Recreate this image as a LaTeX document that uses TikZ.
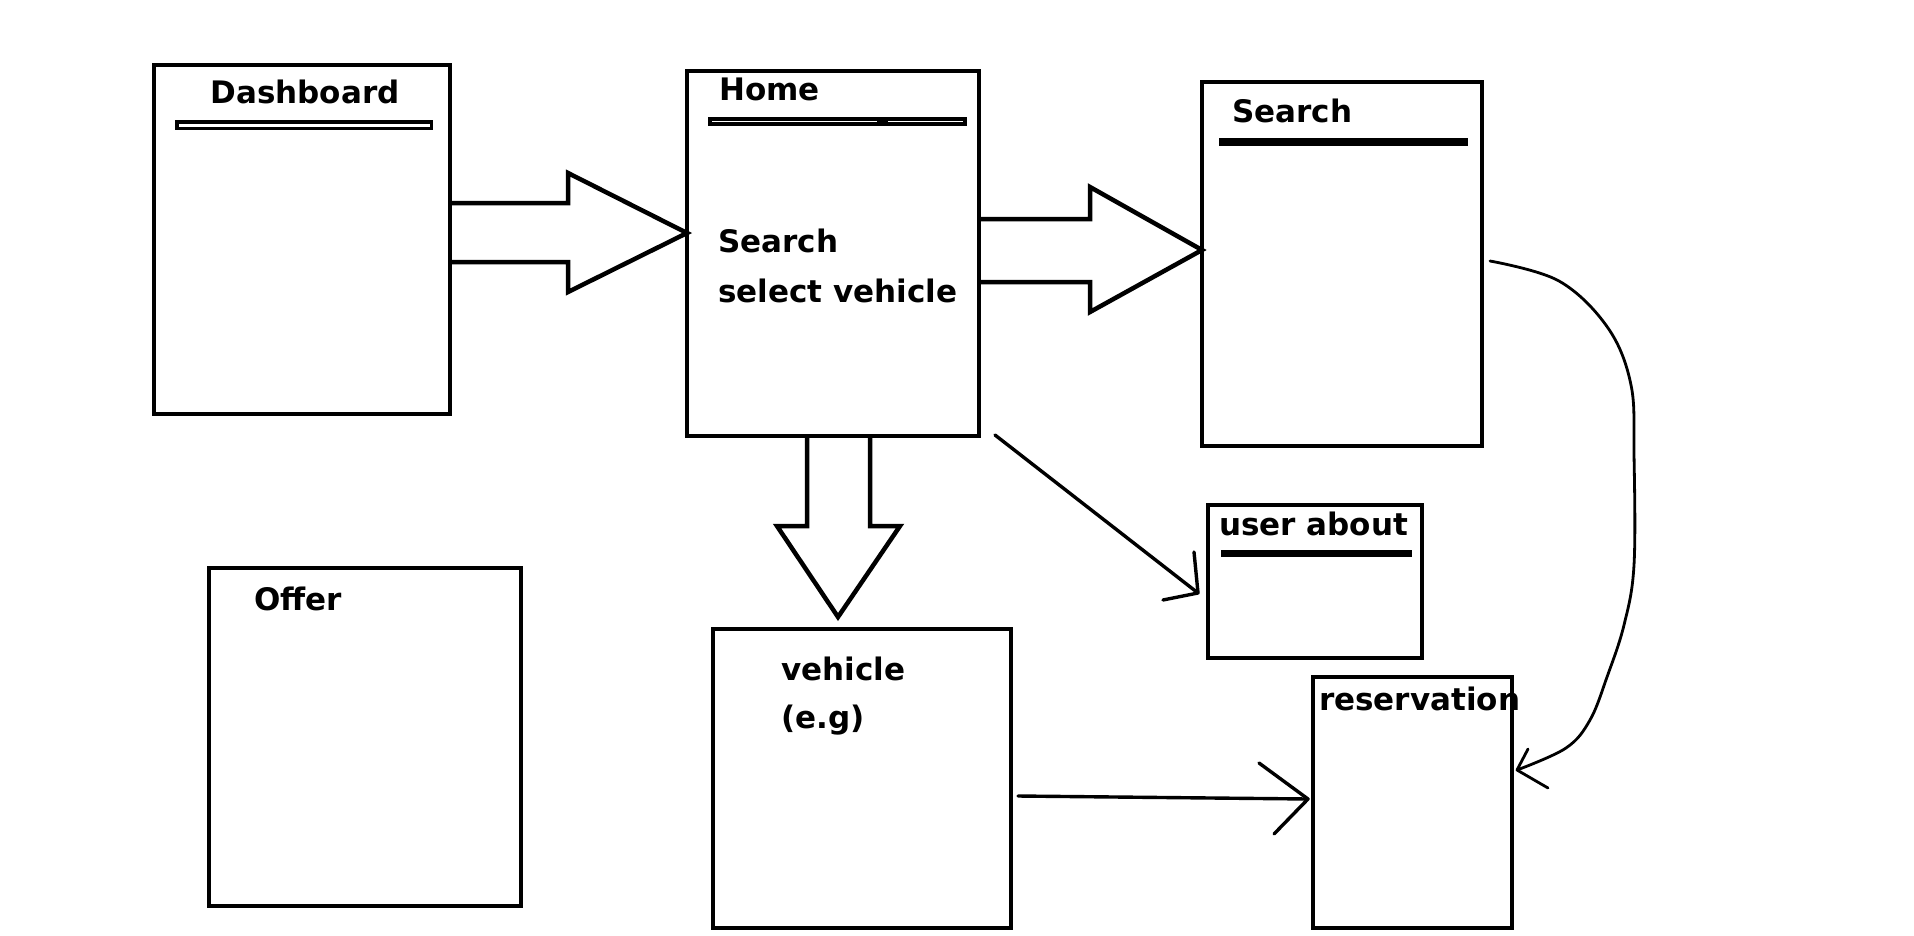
\documentclass[tikz,border=0pt]{standalone}
\usepackage{fontspec}
\setmainfont{DejaVu Sans}
\begin{document}
\begin{tikzpicture}[x=1pt,y=-1pt,
  box/.style={draw, line width=4.5pt, anchor=north west, inner sep=0pt, outer sep=0pt},
  lbl/.style={font=\fontsize{31}{37}\selectfont\bfseries, inner sep=0pt, anchor=base west},
  blockarrow/.style={draw, line width=4.5pt, line join=miter},
  thin/.style={draw, line width=3.4pt, line cap=round, line join=round},
  curvy/.style={draw, line width=2.8pt, line cap=round, line join=round}]
\useasboundingbox[fill=white] (0,0) rectangle (1914,935);

% boxes
\node[box, minimum width=296pt, minimum height=349pt] (dash) at (154,65) {};
\node[box, minimum width=292pt, minimum height=365pt] (home) at (687,71) {};
\node[box, minimum width=280pt, minimum height=364pt] (search) at (1202,82) {};
\node[box, minimum width=312pt, minimum height=338pt] (offer) at (209,568) {};
\node[box, minimum width=298pt, minimum height=299pt] (veh) at (713,629) {};
\node[box, minimum width=214pt, minimum height=153pt] (user) at (1208,505) {};
\node[box, minimum width=199pt, minimum height=251pt] (res) at (1313,677) {};

% titles
\node[lbl, anchor=base] (tdash) at (305,103) {Dashboard};
\node[lbl] (thome) at (719,100) {Home};
\node[lbl] (tsearch) at (1232,122) {Search};
\node[lbl] (thome2) at (718,252) {Search};
\node[lbl] (thome3) at (718,302) {select vehicle};
\node[lbl] (tuser) at (1219,535) {user about};
\node[lbl] (tres) at (1319,710) {reservation};
\node[lbl] (toffer) at (254,610) {Offer};
\node[lbl] (tveh) at (781,680) {vehicle};
\node[lbl] (tveh2) at (781,728) {(e.g)};

% header bars
\draw[line width=3.5pt] (176.75,121.75) rectangle (431.25,128.25);
\draw[line width=4pt] (710,119) rectangle (965,124);
\fill (877,117) rectangle (888,126);
\fill (1219,138) rectangle (1468,146);
\fill (1221,550) rectangle (1412,557);

% block arrows
\draw[blockarrow] (dash.east |- {(0,203)}) -- (568,203) -- (568,173) -- (home.west |- {(0,233)}) -- (568,292) -- (568,262) -- (dash.east |- {(0,262)});
\draw[blockarrow] (home.east |- {(0,219)}) -- (1090,219) -- (1090,187) -- (search.west |- {(0,250)}) -- (1090,312) -- (1090,282) -- (home.east |- {(0,282)});
\draw[blockarrow] (home.south -| {(807,0)}) -- (807,526) -- (777,526) -- (838,617) -- (900,526) -- (870,526) -- (home.south -| {(870,0)});

% thin arrows
\coordinate (d1) at (995,435);
\coordinate (d2) at (1198,593);
\draw[thin] (d1) -- (d2);
\draw[thin] (1194,552) -- (d2) -- (1163,600);

\coordinate (h1) at (1018,796);
\coordinate (h2) at (1308,799);
\draw[thin] (h1) -- (h2);
\draw[thin] (1259,763) -- (h2) -- (1274,834);

\coordinate (c1) at (1490,261);
\coordinate (c2) at (1517,770);
\draw[curvy] plot[smooth, tension=0.6] coordinates {(c1) (1559,281) (1608,328) (1631,385) (1634,454) (1634,565) (1624,625) (1607,677) (1590,720) (1566,748) (c2)};
\draw[curvy] (1528,749) -- (c2) -- (1548,788);
\end{tikzpicture}
\end{document}
